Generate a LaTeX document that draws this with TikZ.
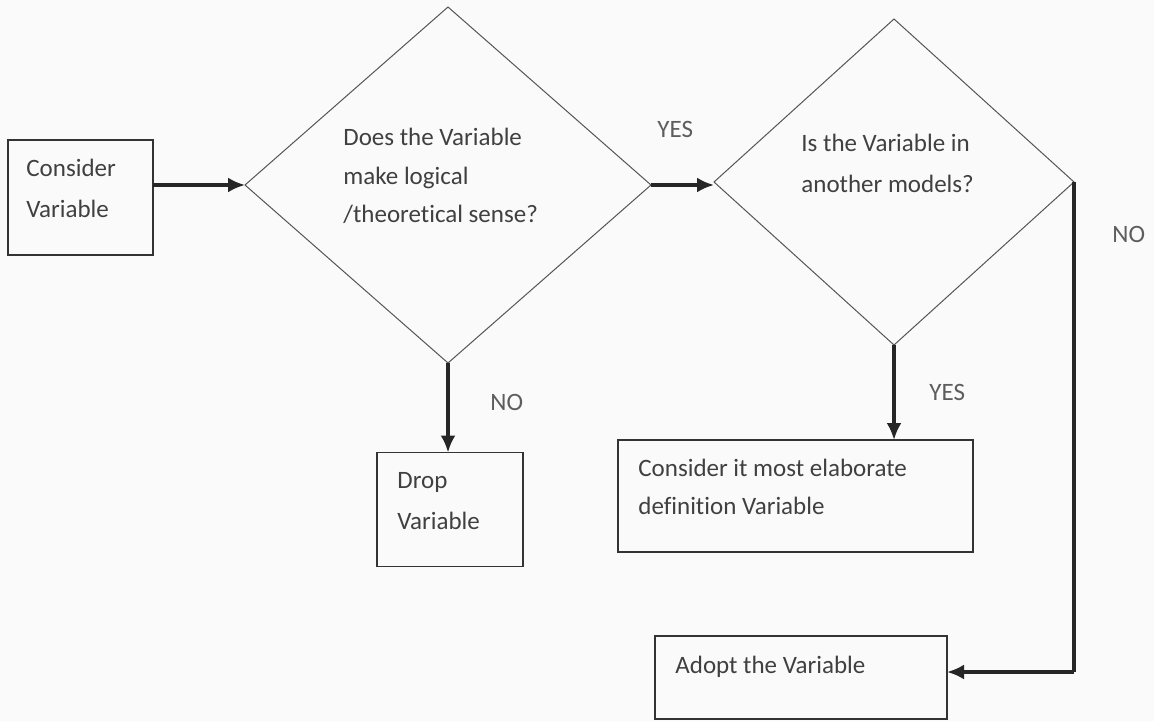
\documentclass[tikz,border=0pt]{standalone}
\usepackage{fontspec}
\setmainfont{Carlito}[Ligatures=NoCommon]
\usetikzlibrary{shapes.geometric,arrows.meta}
\definecolor{ink}{HTML}{404040}
\definecolor{boxline}{HTML}{333333}
\definecolor{dialine}{HTML}{555555}
\definecolor{paper}{HTML}{FAFAFA}
\tikzset{
  txt/.style={anchor=base west, inner sep=0pt, text=ink, font=\fontsize{12.5}{19.5}\selectfont},
  lbl/.style={txt, text=ink!85},
  procbox/.style={draw=boxline, line width=0.9pt, rectangle, inner sep=0pt, outer sep=0pt},
  decision/.style={draw=dialine, line width=0.5pt, diamond, inner sep=0pt, outer sep=0pt},
  flow/.style={draw=black!85, line width=1.6pt, -{Latex[length=8.5pt,width=7.5pt]}},
  plain/.style={draw=black!85, line width=1.6pt}
}
\begin{document}
\begin{tikzpicture}[x=0.5pt,y=-0.5pt]
  % page
  \path[use as bounding box, fill=paper] (0,0) rectangle (1154,721);

  % shapes
  \node[procbox, minimum width=72.5pt, minimum height=57.5pt] (consider) at (80.5,197.5) {};
  \node[decision, minimum width=203pt, minimum height=178pt] (sense) at (448,185) {};
  \node[decision, minimum width=180pt, minimum height=163pt] (other) at (894,182) {};
  \node[procbox, minimum width=73pt, minimum height=57pt] (drop) at (450,509.5) {};
  \node[procbox, minimum width=177.5pt, minimum height=56pt] (elab) at (795.5,496) {};
  \node[procbox, minimum width=146pt, minimum height=41.5pt] (adopt) at (801,677.5) {};

  % texts
  \node[txt] (t1a) at (26,177) {Consider};
  \node[txt] (t1b) at (26,218) {Variable};
  \node[txt] (t2a) at (343,146) {Does the Variable};
  \node[txt] (t2b) at (343,185) {make logical};
  \node[txt] (t2c) at (343,223) {/theoretical sense?};
  \node[txt] (t3a) at (801,152) {Is the Variable in};
  \node[txt] (t3b) at (801,193) {another models?};
  \node[txt] (t4a) at (397,488) {Drop};
  \node[txt] (t4b) at (397,529) {Variable};
  \node[txt] (t5a) at (638,476) {Consider it most elaborate};
  \node[txt] (t5b) at (638,514) {definition Variable};
  \node[txt] (t6) at (675,673) {Adopt the Variable};

  % branch labels
  \node[lbl] (yes1) at (657,138) {YES};
  \node[lbl] (no1) at (490,410) {NO};
  \node[lbl] (yes2) at (929,400) {YES};
  \node[lbl] (no2) at (1112,243) {NO};

  % connectors
  \draw[flow] (consider.east |- sense.west) -- (sense.west);
  \draw[flow] (sense.east) -- (sense.east -| other.west);
  \draw[flow] (sense.south) -- (sense.south |- drop.north);
  \draw[flow] (other.south) -- (other.south |- elab.north);
  \coordinate (corner) at (other.east |- 0,672);
  \draw[plain] (other.east) -- (corner);
  \draw[flow] (corner) -- (corner -| adopt.east);
\end{tikzpicture}
\end{document}
